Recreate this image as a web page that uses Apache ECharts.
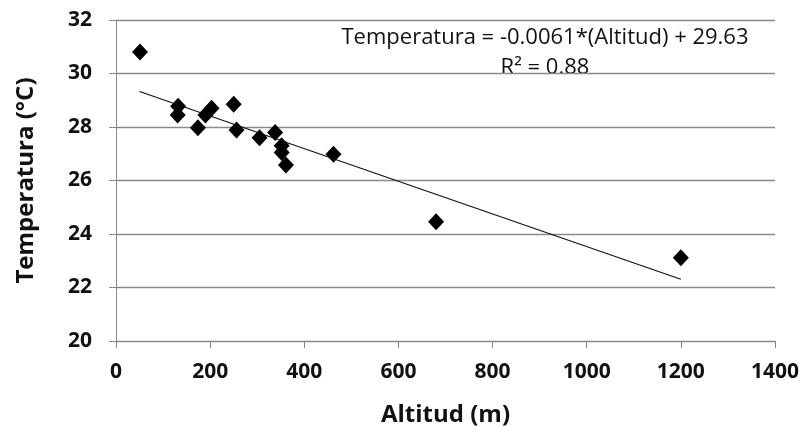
<!doctype html>
<html>
<head>
<meta charset="utf-8">
<title>Temperatura vs Altitud</title>
<style>
  html, body { margin: 0; padding: 0; background: #fff; }
  #main { width: 804px; height: 429px; }
</style>
</head>
<body>
<div id="main"></div>
<script src="https://cdn.jsdelivr.net/npm/echarts@6/dist/echarts.min.js"></script>
<script>
// values
var altitud = [51, 132, 131, 174, 190, 203, 250, 256, 305, 338, 352, 352, 361, 462, 680, 1200];
var temperatura = [30.8, 28.78, 28.45, 27.97, 28.45, 28.7, 28.85, 27.89, 27.6, 27.79, 27.3, 27.05, 26.58, 26.98, 24.46, 23.11];
// trend line end points
var trendX = [50, 1200];
var trendY = [29.325, 22.31];
var equationText = 'Temperatura = -0.0061*(Altitud) + 29.63';
var r2Text = 'R² = 0.88';

var points = altitud.map(function (a, i) { return [a, temperatura[i]]; });
var trend = trendX.map(function (a, i) { return [a, trendY[i]]; });

var font = 'Open Sans';
var chart = echarts.init(document.getElementById('main'));

chart.setOption({
    animation: false,
    backgroundColor: '#fff',
    grid: { left: 116, right: 29, top: 20, bottom: 88, outerBoundsMode: 'none', containLabel: false },
    xAxis: {
        type: 'value',
        min: 0, max: 1400, interval: 200,
        name: 'Altitud (m)',
        nameLocation: 'middle',
        nameGap: 62,
        nameTextStyle: { fontFamily: font, fontSize: 24, fontWeight: 'bold', color: '#111' },
        axisLine: { show: true, lineStyle: { color: '#888', width: 1 } },
        axisTick: { show: true, length: 7, lineStyle: { color: '#888' } },
        axisLabel: {
            fontFamily: font, fontSize: 21, fontWeight: 'bold', color: '#111', margin: 21,
            formatter: function (v) { return String(v); }
        },
        splitLine: { show: false }
    },
    yAxis: {
        type: 'value',
        min: 20, max: 32, interval: 2,
        name: 'Temperatura (°C)',
        nameLocation: 'middle',
        nameGap: 78,
        nameRotate: 90,
        nameTextStyle: { fontFamily: font, fontSize: 24, fontWeight: 'bold', color: '#111' },
        axisLine: { show: true, lineStyle: { color: '#888', width: 1 } },
        axisTick: { show: true, length: 7, lineStyle: { color: '#888' } },
        axisLabel: { fontFamily: font, fontSize: 21, fontWeight: 'bold', color: '#111', margin: 24 },
        splitLine: { show: true, lineStyle: { color: '#8a8a8a', width: 1.3 } }
    },
    series: [
        {
            type: 'line',
            data: trend,
            symbol: 'none',
            lineStyle: { color: '#111', width: 1.2 },
            z: 1
        },
        {
            type: 'scatter',
            data: points,
            symbol: 'diamond',
            symbolSize: [16, 17],
            itemStyle: { color: '#000', opacity: 1 },
            z: 3
        }
    ],
    graphic: [
        {
            type: 'text',
            style: {
                text: equationText,
                x: 545, y: 38,
                fontFamily: font, fontSize: 22, fontWeight: 'normal',
                fill: '#111', align: 'center', verticalAlign: 'middle'
            }
        },
        {
            type: 'text',
            style: {
                text: r2Text,
                x: 545, y: 68,
                fontFamily: font, fontSize: 22, fontWeight: 'normal',
                fill: '#111', align: 'center', verticalAlign: 'middle'
            }
        }
    ]
});
</script>
</body>
</html>
